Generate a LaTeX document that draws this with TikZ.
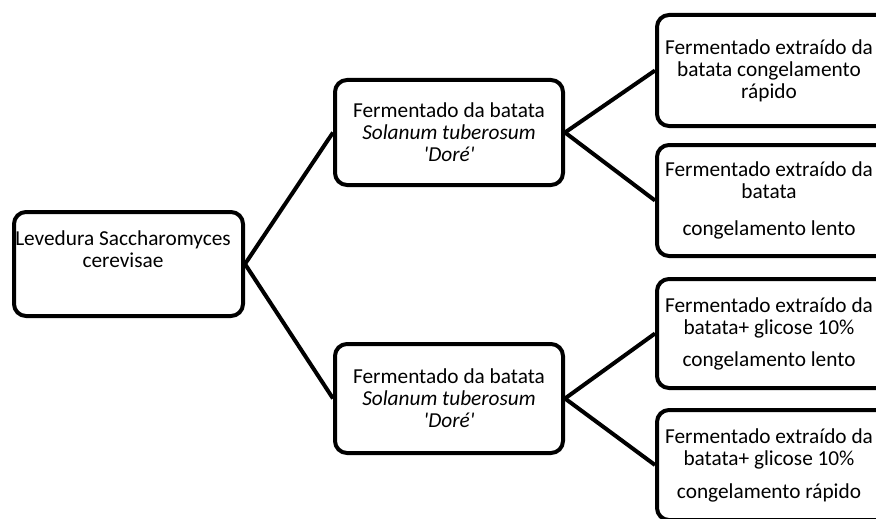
\documentclass[tikz,border=0pt]{standalone}
\usepackage{fontspec}
\setmainfont{Carlito}
\begin{document}
\begin{tikzpicture}[x=1pt,y=-1pt,
  txt/.style={align=center, inner sep=0pt, font=\fontsize{21.3}{22}\selectfont},
  box/.style={draw=black, line width=4pt, rounded corners=12pt, fill=white, txt},
  conn/.style={draw=black, line width=4pt}]
\useasboundingbox (0,0) rectangle (876,519);
\clip (0,0) rectangle (876,519);
% boxes
\node[box, minimum width=229, minimum height=104] (L) at (128.5,264) {};
\node[txt] (Lt) at (123,249) {Levedura Saccharomyces\\cerevisae};
\node[box, minimum width=228, minimum height=105] (M1) at (449,132.5)
  {Fermentado da batata\\\textit{Solanum tuberosum}\\\textit{\textquotesingle Doré\textquotesingle}};
\node[box, minimum width=228, minimum height=109] (M2) at (449,398.5)
  {Fermentado da batata\\\textit{Solanum tuberosum}\\\textit{\textquotesingle Doré\textquotesingle}};
\node[box, minimum width=244, minimum height=111] (R1) at (779,70.5) {};
\node[txt] (R1t) at (769,70.5) {Fermentado extraído da\\batata congelamento\\rápido};
\node[box, minimum width=244, minimum height=111] (R2) at (779,200.5) {};
\node[txt] (R2t) at (769,200.5) {Fermentado extraído da\\batata\\[15pt]congelamento lento};
\node[box, minimum width=244, minimum height=109] (R3) at (779,333.5) {};
\node[txt] (R3t) at (769,333.5) {Fermentado extraído da\\batata+ glicose 10\%\\[10pt]congelamento lento};
\node[box, minimum width=244, minimum height=110] (R4) at (779,465) {};
\node[txt] (R4t) at (769,465) {Fermentado extraído da\\batata+ glicose 10\%\\[11pt]congelamento rápido};
% connectors
\draw[conn] (L.east) -- (M1.west);
\draw[conn] (L.east) -- (M2.west);
\draw[conn] (M1.east) -- (R1.west);
\draw[conn] (M1.east) -- (R2.west);
\draw[conn] (M2.east) -- (R3.west);
\draw[conn] (M2.east) -- (R4.west);
\end{tikzpicture}
\end{document}
